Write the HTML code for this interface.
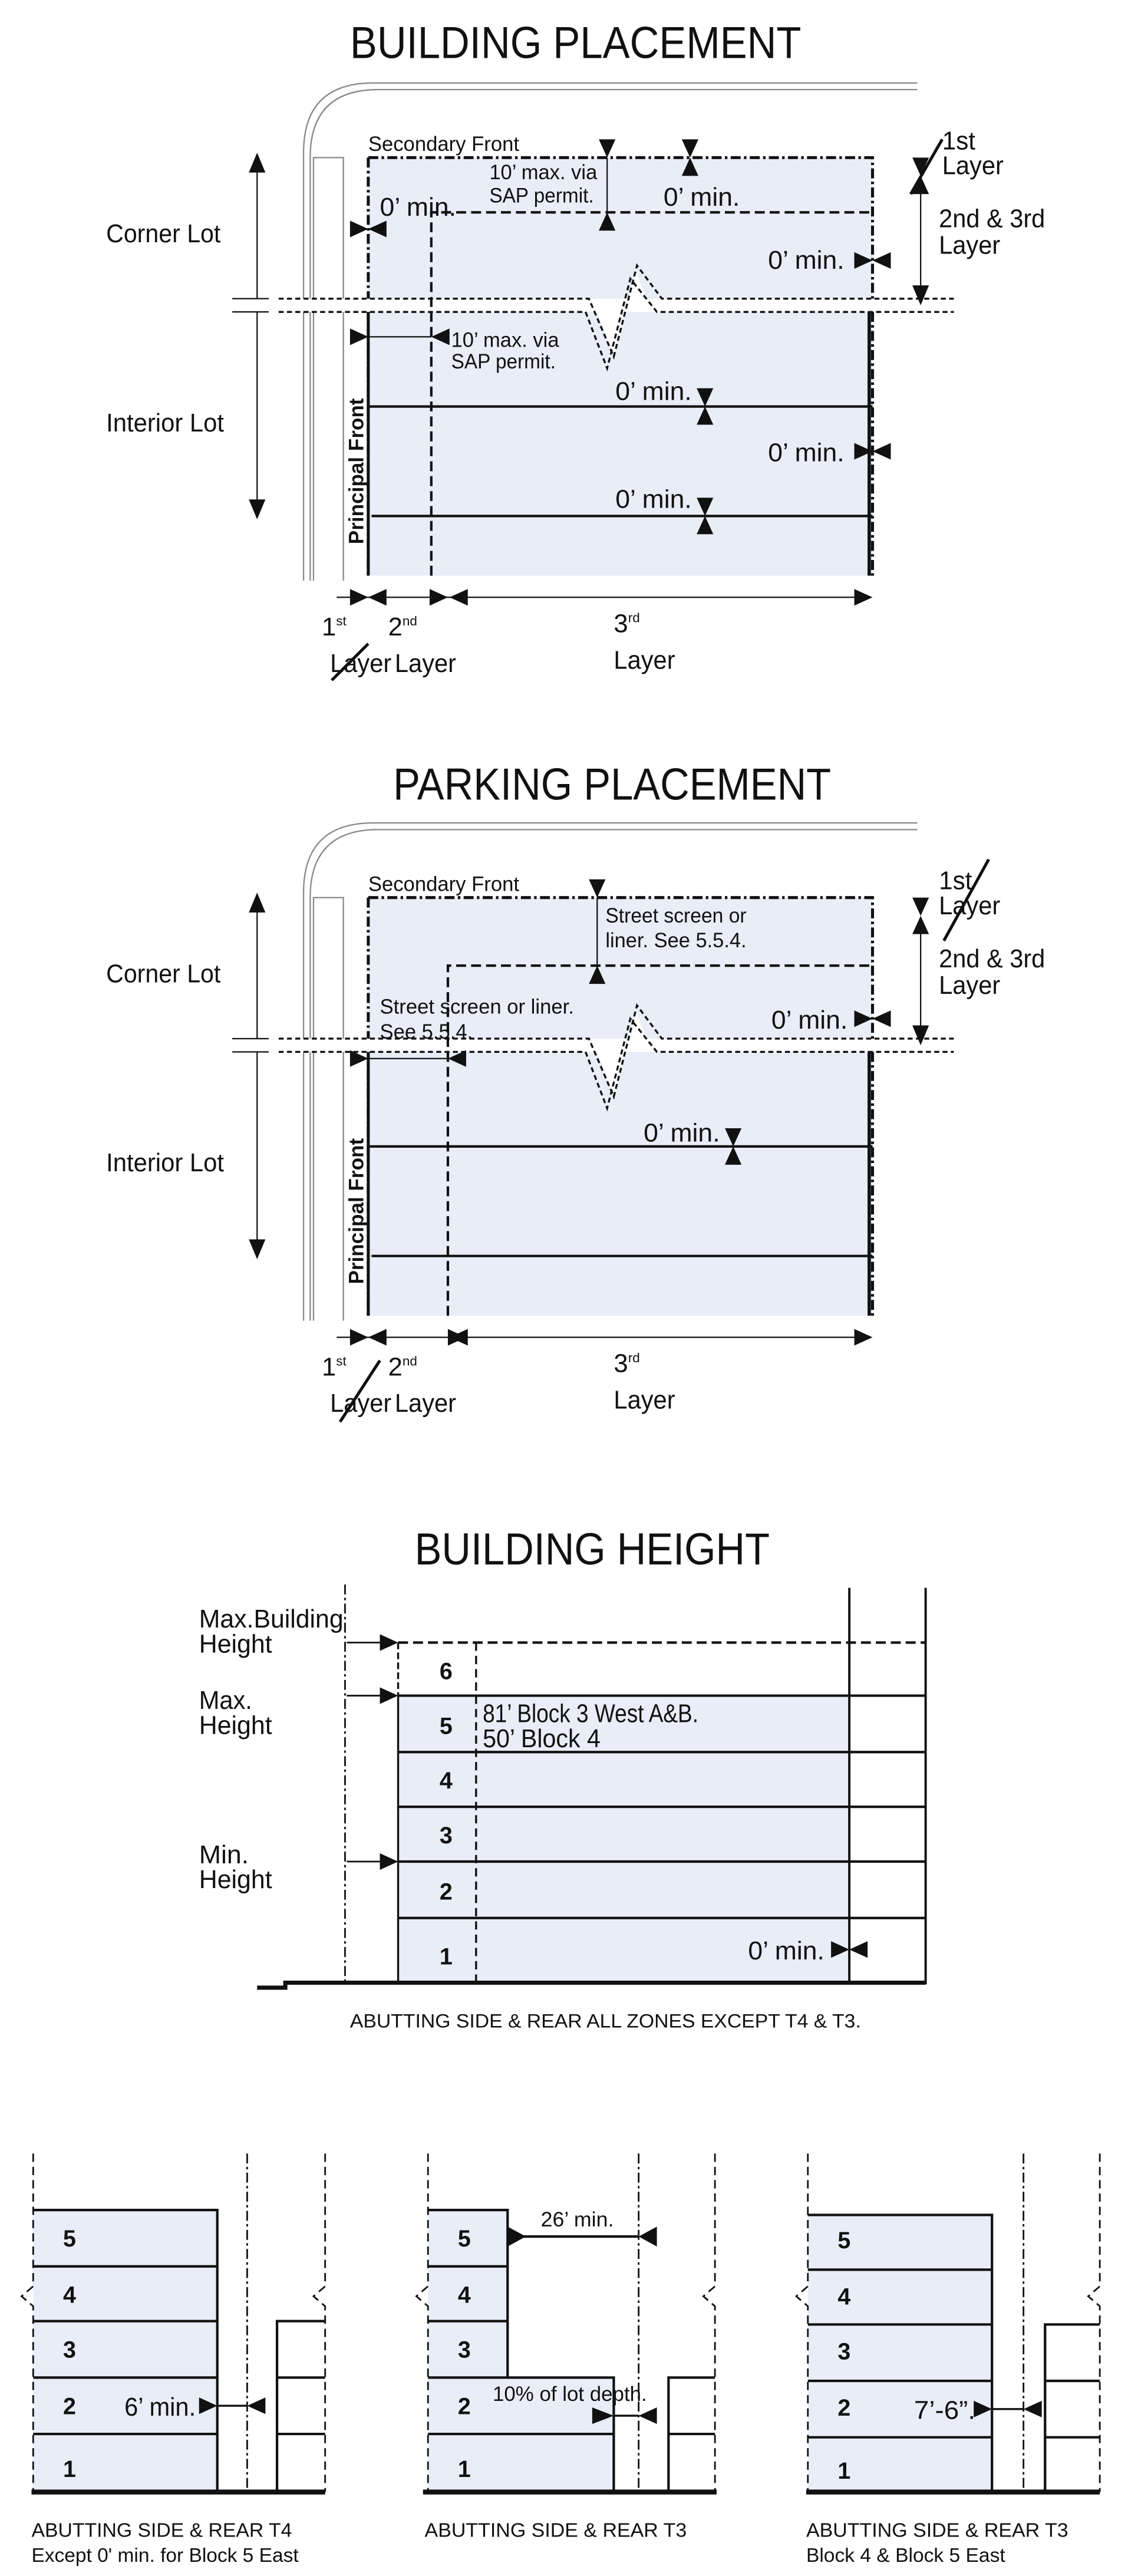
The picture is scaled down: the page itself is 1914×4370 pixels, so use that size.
<!DOCTYPE html>
<html><head><meta charset="utf-8"><style>
html,body{margin:0;padding:0;background:#fff;}
svg{display:block}
text{font-family:"Liberation Sans Narrow","Liberation Sans",sans-serif;fill:#111;}
.t{font-size:27px}
.l{font-size:15.5px}
.s{font-size:12.5px}
.b{font-weight:bold;font-family:"Liberation Sans",sans-serif}
</style></head><body>
<svg width="1914" height="4370" viewBox="0 0 680 1552.6" preserveAspectRatio="none" xmlns="http://www.w3.org/2000/svg">
<defs>
<g id="road">
 <path d="M183,350 V92 Q183,50 225,50 H553" fill="none" stroke="#888" stroke-width="0.8"/>
 <path d="M187,350 V95 Q187,54 228,54 H553" fill="none" stroke="#888" stroke-width="0.8"/>
 <path d="M189,350 V95 H207 V350" fill="none" stroke="#888" stroke-width="0.8"/>
 <rect x="222" y="95" width="304" height="252" fill="#e8edf7"/>
 <path d="M222,95 H526 V180 M222,95 V347 M526,188 V347" fill="none" stroke="#111" stroke-width="1.8" stroke-dasharray="6,2,1.5,2"/>
 <path d="M524,188 V347" stroke="#111" stroke-width="2"/>
 <path d="M222,188 V347" stroke="#111" stroke-width="1.8"/>
 <rect x="160" y="180" width="420" height="8" fill="#fff"/>
 <path d="M360,188 L370,215 L383,163 L393,188 L400,188 Z" fill="#fff"/>
 <path d="M168,180 H355 L370,215 L384,160 L399,180 H575" fill="none" stroke="#111" stroke-width="1.2" stroke-dasharray="3,2"/>
 <path d="M168,188 H353 L366,222 L380,168 L396,188 H575" fill="none" stroke="#111" stroke-width="1.2" stroke-dasharray="3,2"/>
 <path d="M140,180 H162 M140,188 H162" stroke="#111" stroke-width="0.8"/>
 <polygon points="150,104 160,104 155,92" fill="#111"/>
 <line x1="155" y1="100" x2="155" y2="180" stroke="#111" stroke-width="0.8"/>
 <line x1="155" y1="188" x2="155" y2="305" stroke="#111" stroke-width="0.8"/>
 <polygon points="150,301 160,301 155,313" fill="#111"/>
 <text x="64" y="146" class="l" textLength="69" lengthAdjust="spacingAndGlyphs">Corner Lot</text>
 <text x="64" y="260" class="l" textLength="71" lengthAdjust="spacingAndGlyphs">Interior Lot</text>
 <text x="222" y="91" class="s" textLength="91" lengthAdjust="spacingAndGlyphs">Secondary Front</text>
 <text transform="translate(219,328) rotate(-90)" class="s b" textLength="88" lengthAdjust="spacingAndGlyphs">Principal Front</text>
 <polygon points="550,95 560,95 555,106" fill="#111"/>
 <polygon points="550,117 560,117 555,106" fill="#111"/>
 <line x1="555" y1="115" x2="555" y2="172" stroke="#111" stroke-width="0.8"/>
 <polygon points="550,172 560,172 555,184" fill="#111"/>
 <text x="566" y="137" class="l" textLength="64" lengthAdjust="spacingAndGlyphs">2nd &amp; 3rd</text>
 <text x="566" y="153" class="l" textLength="37" lengthAdjust="spacingAndGlyphs">Layer</text>
 <line x1="203" y1="360" x2="520" y2="360" stroke="#111" stroke-width="0.8"/>
 <polygon points="211,355 211,365 222,360" fill="#111"/>
 <polygon points="233,355 233,365 222,360" fill="#111"/>
 <polygon points="515,355 515,365 526,360" fill="#111"/>
 <text x="194" y="383" class="l">1<tspan dy="-6" font-size="8">st</tspan></text>
 <text x="234" y="383" class="l">2<tspan dy="-6" font-size="8">nd</tspan></text>
 <text x="370" y="381" class="l">3<tspan dy="-6" font-size="8">rd</tspan></text>
 <text x="199" y="405" class="l" textLength="37" lengthAdjust="spacingAndGlyphs">Layer</text>
 <text x="238" y="405" class="l" textLength="37" lengthAdjust="spacingAndGlyphs">Layer</text>
 <text x="370" y="403" class="l" textLength="37" lengthAdjust="spacingAndGlyphs">Layer</text>
</g>
</defs>

<!-- BUILDING PLACEMENT -->
<text x="211" y="35" class="t" textLength="272" lengthAdjust="spacingAndGlyphs">BUILDING PLACEMENT</text>
<use href="#road"/>
<path d="M260,347 V128 H526" fill="none" stroke="#111" stroke-width="1.5" stroke-dasharray="6,3"/>
<path d="M222,245 H526 M224,311 H526" stroke="#111" stroke-width="1.5"/>
<polygon points="259,355 259,365 270,360" fill="#111"/>
<polygon points="282,355 282,365 271,360" fill="#111"/>
<line x1="200" y1="410" x2="222" y2="388" stroke="#111" stroke-width="1.8"/>
<text x="568" y="90" class="l" textLength="20" lengthAdjust="spacingAndGlyphs">1st</text>
<text x="568" y="105" class="l" textLength="37" lengthAdjust="spacingAndGlyphs">Layer</text>
<line x1="549" y1="117" x2="568" y2="84" stroke="#111" stroke-width="1.8"/>
<polygon points="361,84 371,84 366,95" fill="#111"/>
<line x1="366" y1="95" x2="366" y2="128" stroke="#111" stroke-width="0.8"/>
<polygon points="361,139 371,139 366,128" fill="#111"/>
<text x="295" y="108" class="s" textLength="65" lengthAdjust="spacingAndGlyphs">10’ max. via</text>
<text x="295" y="122" class="s" textLength="63" lengthAdjust="spacingAndGlyphs">SAP permit.</text>
<polygon points="411,84 421,84 416,95" fill="#111"/>
<polygon points="411,106 421,106 416,95" fill="#111"/>
<text x="400" y="124" class="l" textLength="46" lengthAdjust="spacingAndGlyphs">0’ min.</text>
<text x="229" y="130" class="l" textLength="46" lengthAdjust="spacingAndGlyphs">0’ min.</text>
<polygon points="211,133 211,143 222,138" fill="#111"/>
<polygon points="233,133 233,143 222,138" fill="#111"/>
<text x="463" y="162" class="l" textLength="46" lengthAdjust="spacingAndGlyphs">0’ min.</text>
<polygon points="515,152 515,162 526,157" fill="#111"/>
<polygon points="537,152 537,162 526,157" fill="#111"/>
<polygon points="211,198 211,208 222,203" fill="#111"/>
<line x1="222" y1="203" x2="260" y2="203" stroke="#111" stroke-width="0.8"/>
<polygon points="271,198 271,208 260,203" fill="#111"/>
<text x="272" y="209" class="s" textLength="65" lengthAdjust="spacingAndGlyphs">10’ max. via</text>
<text x="272" y="222" class="s" textLength="63" lengthAdjust="spacingAndGlyphs">SAP permit.</text>
<text x="371" y="241" class="l" textLength="46" lengthAdjust="spacingAndGlyphs">0’ min.</text>
<polygon points="420,234 430,234 425,245" fill="#111"/>
<polygon points="420,256 430,256 425,245" fill="#111"/>
<text x="463" y="278" class="l" textLength="46" lengthAdjust="spacingAndGlyphs">0’ min.</text>
<polygon points="515,267 515,277 526,272" fill="#111"/>
<polygon points="537,267 537,277 526,272" fill="#111"/>
<text x="371" y="306" class="l" textLength="46" lengthAdjust="spacingAndGlyphs">0’ min.</text>
<polygon points="420,300 430,300 425,311" fill="#111"/>
<polygon points="420,322 430,322 425,311" fill="#111"/>

<!-- PARKING PLACEMENT -->
<text x="237" y="482" class="t" textLength="264" lengthAdjust="spacingAndGlyphs">PARKING PLACEMENT</text>
<g transform="translate(0,446)">
 <use href="#road"/>
 <path d="M270,347 V136 H526" fill="none" stroke="#111" stroke-width="1.5" stroke-dasharray="6,3"/>
 <path d="M222,245 H526 M224,311 H526" stroke="#111" stroke-width="1.5"/>
 <polygon points="270,355 270,365 281,360" fill="#111"/>
 <polygon points="282,355 282,365 271,360" fill="#111"/>
 <line x1="205" y1="411" x2="229" y2="374" stroke="#111" stroke-width="1.8"/>
 <text x="566" y="90" class="l" textLength="20" lengthAdjust="spacingAndGlyphs">1st</text>
 <text x="566" y="105" class="l" textLength="37" lengthAdjust="spacingAndGlyphs">Layer</text>
 <line x1="569" y1="121" x2="596" y2="72" stroke="#111" stroke-width="1.8"/>
 <polygon points="355,84 365,84 360,95" fill="#111"/>
 <line x1="360" y1="95" x2="360" y2="136" stroke="#111" stroke-width="0.8"/>
 <polygon points="355,147 365,147 360,136" fill="#111"/>
 <text x="365" y="110" class="s" textLength="85" lengthAdjust="spacingAndGlyphs">Street screen or</text>
 <text x="365" y="125" class="s" textLength="85" lengthAdjust="spacingAndGlyphs">liner. See 5.5.4.</text>
 <text x="229" y="165" class="s" textLength="117" lengthAdjust="spacingAndGlyphs">Street screen or liner.</text>
 <text x="229" y="180" class="s" textLength="56" lengthAdjust="spacingAndGlyphs">See 5.5.4.</text>
 <polygon points="211,187 211,197 222,192" fill="#111"/>
 <line x1="222" y1="192" x2="270" y2="192" stroke="#111" stroke-width="0.8"/>
 <polygon points="281,187 281,197 270,192" fill="#111"/>
 <text x="465" y="174" class="l" textLength="46" lengthAdjust="spacingAndGlyphs">0’ min.</text>
 <polygon points="515,163 515,173 526,168" fill="#111"/>
 <polygon points="537,163 537,173 526,168" fill="#111"/>
 <text x="388" y="242" class="l" textLength="46" lengthAdjust="spacingAndGlyphs">0’ min.</text>
 <polygon points="437,234 447,234 442,245" fill="#111"/>
 <polygon points="437,256 447,256 442,245" fill="#111"/>
</g>

<!-- BUILDING HEIGHT -->
<text x="250" y="943" class="t" textLength="214" lengthAdjust="spacingAndGlyphs">BUILDING HEIGHT</text>
<rect x="240" y="1022" width="272" height="173" fill="#e8edf7"/>
<line x1="208" y1="955" x2="208" y2="1195" stroke="#111" stroke-width="1" stroke-dasharray="6,2,1.5,2"/>
<path d="M240,990 V1022" stroke="#111" stroke-width="1.2" stroke-dasharray="4,2"/>
<path d="M240,1022 V1195" stroke="#111" stroke-width="1.2"/>
<path d="M287,990 V1195" stroke="#111" stroke-width="1.2" stroke-dasharray="5,3"/>
<path d="M512,957 V1195 M558,957 V1196" stroke="#111" stroke-width="1.4"/>
<path d="M240,990 H558" stroke="#111" stroke-width="1.5" stroke-dasharray="6,3"/>
<path d="M240,1022 H558 M240,1056 H558 M240,1089 H558 M240,1122 H558 M240,1156 H558" stroke="#111" stroke-width="1.5"/>
<path d="M155,1198 H172 V1195 H558" fill="none" stroke="#111" stroke-width="2.5"/>
<line x1="209" y1="990" x2="229" y2="990" stroke="#111" stroke-width="1"/>
<polygon points="229,985 229,995 240,990" fill="#111"/>
<line x1="209" y1="1022" x2="229" y2="1022" stroke="#111" stroke-width="1"/>
<polygon points="229,1017 229,1027 240,1022" fill="#111"/>
<line x1="209" y1="1122" x2="229" y2="1122" stroke="#111" stroke-width="1"/>
<polygon points="229,1117 229,1127 240,1122" fill="#111"/>
<text x="120" y="981" class="l" textLength="87" lengthAdjust="spacingAndGlyphs">Max.Building</text>
<text x="120" y="996" class="l" textLength="44" lengthAdjust="spacingAndGlyphs">Height</text>
<text x="120" y="1030" class="l" textLength="32" lengthAdjust="spacingAndGlyphs">Max.</text>
<text x="120" y="1045" class="l" textLength="44" lengthAdjust="spacingAndGlyphs">Height</text>
<text x="120" y="1123" class="l" textLength="30" lengthAdjust="spacingAndGlyphs">Min.</text>
<text x="120" y="1138" class="l" textLength="44" lengthAdjust="spacingAndGlyphs">Height</text>
<text x="265" y="1012" class="b" font-size="14">6</text>
<text x="265" y="1045" class="b" font-size="14">5</text>
<text x="265" y="1078" class="b" font-size="14">4</text>
<text x="265" y="1111" class="b" font-size="14">3</text>
<text x="265" y="1145" class="b" font-size="14">2</text>
<text x="265" y="1184" class="b" font-size="14">1</text>
<text x="291" y="1038" class="l" textLength="130" lengthAdjust="spacingAndGlyphs">81’ Block 3 West A&amp;B.</text>
<text x="291" y="1053" class="l" textLength="71" lengthAdjust="spacingAndGlyphs">50’ Block 4</text>
<text x="451" y="1181" class="l" textLength="46" lengthAdjust="spacingAndGlyphs">0’ min.</text>
<polygon points="501,1170 501,1180 512,1175" fill="#111"/>
<polygon points="523,1170 523,1180 512,1175" fill="#111"/>
<text x="211" y="1222" font-size="11.5" textLength="308" lengthAdjust="spacingAndGlyphs">ABUTTING SIDE &amp; REAR ALL ZONES EXCEPT T4 &amp; T3.</text>

<!-- Bottom panels -->
<g stroke="#111" fill="none">
 <rect x="20" y="1332" width="111" height="170" fill="#e8edf7" stroke="none"/>
 <path d="M20,1332 H131 V1502 M20,1366 H131 M20,1399 H131 M20,1433 H131 M20,1467 H131" stroke-width="1.5"/>
 <path d="M20,1298 V1378 L13,1384 L20,1390 V1502" stroke-width="1" stroke-dasharray="5,3"/>
 <path d="M196,1298 V1378 L189,1384 L196,1390 V1502" stroke-width="1" stroke-dasharray="5,3"/>
 <path d="M149,1298 V1502" stroke-width="1" stroke-dasharray="6,2,1.5,2"/>
 <path d="M167,1502 V1399 H196 M167,1433 H196 M167,1467 H196" stroke-width="1.5"/>
 <path d="M19,1502 H196" stroke-width="3"/>
 <rect x="258" y="1332" width="48" height="101" fill="#e8edf7" stroke="none"/>
 <rect x="258" y="1433" width="112" height="69" fill="#e8edf7" stroke="none"/>
 <path d="M258,1332 H306 V1433 M258,1366 H306 M258,1399 H306 M258,1433 H370 V1502 M258,1467 H370" stroke-width="1.5"/>
 <path d="M258,1298 V1378 L251,1384 L258,1390 V1502" stroke-width="1" stroke-dasharray="5,3"/>
 <path d="M431,1298 V1378 L424,1384 L431,1390 V1502" stroke-width="1" stroke-dasharray="5,3"/>
 <path d="M385,1298 V1502" stroke-width="1" stroke-dasharray="6,2,1.5,2"/>
 <path d="M403,1502 V1433 H431 M403,1467 H431" stroke-width="1.5"/>
 <path d="M255,1502 H432" stroke-width="3"/>
 <rect x="487" y="1335" width="111" height="167" fill="#e8edf7" stroke="none"/>
 <path d="M487,1335 H598 V1502 M487,1368 H598 M487,1401 H598 M487,1435 H598 M487,1469 H598" stroke-width="1.5"/>
 <path d="M487,1298 V1378 L480,1384 L487,1390 V1502" stroke-width="1" stroke-dasharray="5,3"/>
 <path d="M663,1298 V1378 L656,1384 L663,1390 V1502" stroke-width="1" stroke-dasharray="5,3"/>
 <path d="M617,1298 V1502" stroke-width="1" stroke-dasharray="6,2,1.5,2"/>
 <path d="M630,1502 V1401 H663 M630,1435 H663 M630,1469 H663" stroke-width="1.5"/>
 <path d="M486,1502 H663" stroke-width="3"/>
</g>
<g>
 <text x="38" y="1354" class="b" font-size="14">5</text>
 <text x="38" y="1388" class="b" font-size="14">4</text>
 <text x="38" y="1421" class="b" font-size="14">3</text>
 <text x="38" y="1455" class="b" font-size="14">2</text>
 <text x="38" y="1493" class="b" font-size="14">1</text>
 <text x="276" y="1354" class="b" font-size="14">5</text>
 <text x="276" y="1388" class="b" font-size="14">4</text>
 <text x="276" y="1421" class="b" font-size="14">3</text>
 <text x="276" y="1455" class="b" font-size="14">2</text>
 <text x="276" y="1493" class="b" font-size="14">1</text>
 <text x="505" y="1355" class="b" font-size="14">5</text>
 <text x="505" y="1389" class="b" font-size="14">4</text>
 <text x="505" y="1422" class="b" font-size="14">3</text>
 <text x="505" y="1456" class="b" font-size="14">2</text>
 <text x="505" y="1494" class="b" font-size="14">1</text>
</g>
<text x="75" y="1456" class="l" textLength="43" lengthAdjust="spacingAndGlyphs">6’ min.</text>
<polygon points="120,1445 120,1455 131,1450" fill="#111"/>
<line x1="131" y1="1450" x2="149" y2="1450" stroke="#111" stroke-width="1.2"/>
<polygon points="160,1445 160,1455 149,1450" fill="#111"/>
<text x="326" y="1342" class="s" textLength="44" lengthAdjust="spacingAndGlyphs">26’ min.</text>
<polygon points="306,1342 306,1354 317,1348" fill="#111"/>
<line x1="306" y1="1348" x2="385" y2="1348" stroke="#111" stroke-width="1.5"/>
<polygon points="396,1342 396,1354 385,1348" fill="#111"/>
<text x="297" y="1447" class="s" textLength="93" lengthAdjust="spacingAndGlyphs">10% of lot depth.</text>
<polygon points="357,1451 357,1461 370,1456" fill="#111"/>
<line x1="370" y1="1456" x2="385" y2="1456" stroke="#111" stroke-width="1.2"/>
<polygon points="396,1451 396,1461 385,1456" fill="#111"/>
<text x="551" y="1458" class="l" textLength="37" lengthAdjust="spacingAndGlyphs">7’-6”.</text>
<polygon points="587,1447 587,1457 598,1452" fill="#111"/>
<line x1="598" y1="1452" x2="617" y2="1452" stroke="#111" stroke-width="1.2"/>
<polygon points="628,1447 628,1457 617,1452" fill="#111"/>
<text x="19" y="1529" font-size="12" textLength="157" lengthAdjust="spacingAndGlyphs">ABUTTING SIDE &amp; REAR T4</text>
<text x="19" y="1544" font-size="12" textLength="161" lengthAdjust="spacingAndGlyphs">Except 0' min. for Block 5 East</text>
<text x="256" y="1529" font-size="12" textLength="158" lengthAdjust="spacingAndGlyphs">ABUTTING SIDE &amp; REAR T3</text>
<text x="486" y="1529" font-size="12" textLength="158" lengthAdjust="spacingAndGlyphs">ABUTTING SIDE &amp; REAR T3</text>
<text x="486" y="1544" font-size="12" textLength="120" lengthAdjust="spacingAndGlyphs">Block 4 &amp; Block 5 East</text>
</svg>
</body></html>
